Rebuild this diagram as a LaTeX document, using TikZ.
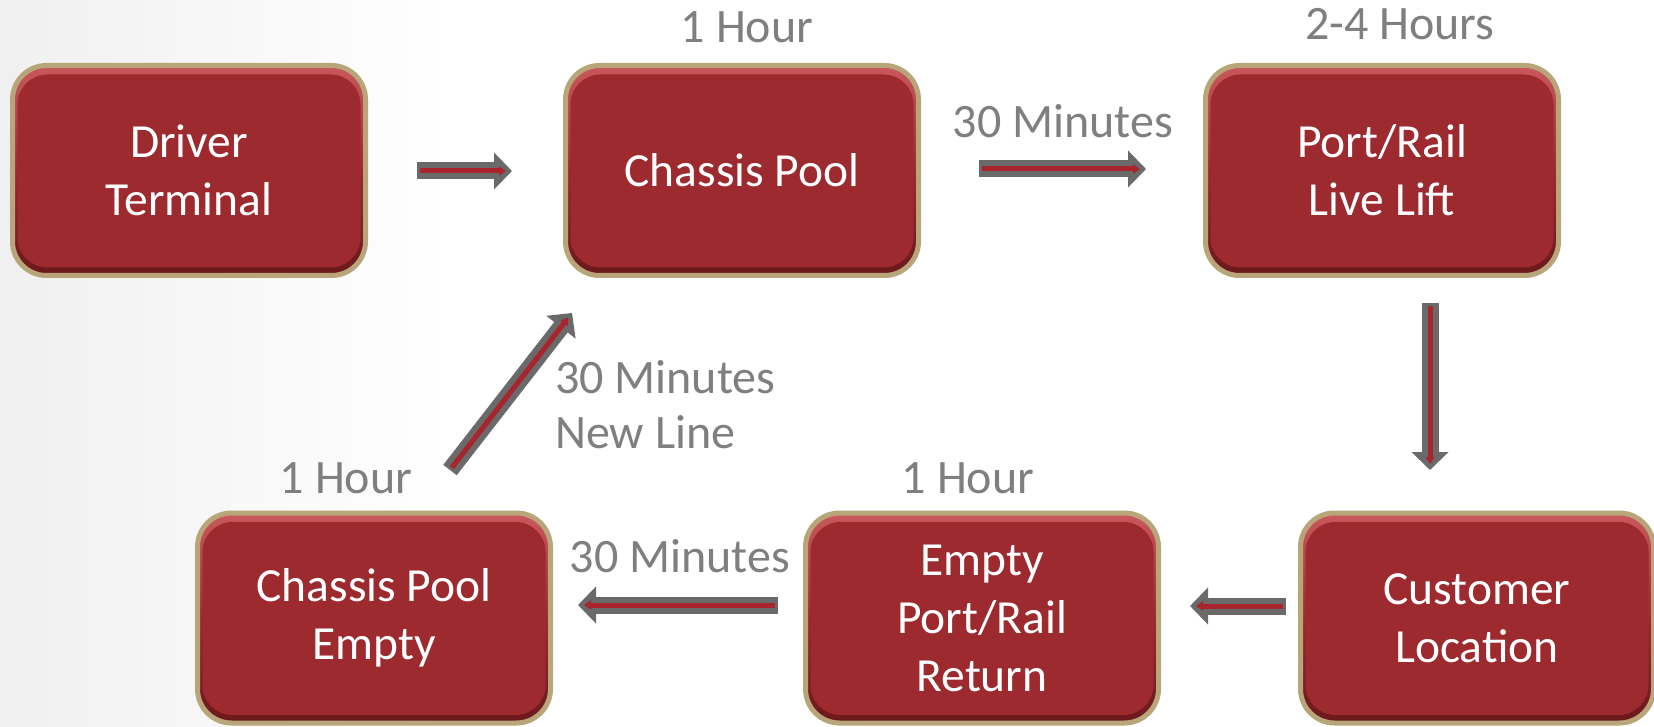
\documentclass[tikz,border=0pt]{standalone}
\usepackage{fontspec}
\setmainfont{Carlito}
\usetikzlibrary{arrows.meta,calc}
\definecolor{boxred}{HTML}{9C2A2F}
\definecolor{boxlight}{HTML}{C9585B}
\definecolor{boxdark}{HTML}{6A181C}
\definecolor{boxrim}{HTML}{B8A57A}
\definecolor{lblgray}{HTML}{7F7F7F}
\definecolor{arrgray}{HTML}{6A6A6A}
\definecolor{arrred}{HTML}{A8252D}
\newcommand\fancyarrow[2]{\draw[greyarr] (#1) -- (#2); \draw[redarr] (#1) -- (#2);}
\begin{document}
\begin{tikzpicture}[x=1pt,y=-1pt,
  stepbox/.style={draw=boxrim, line width=5pt, rounded corners=34pt,
    minimum width=353pt, minimum height=210pt, inner sep=0pt, outer sep=0pt,
    text=white, align=center, font=\fontsize{47.5}{58}\selectfont, fill=boxred,
    path picture={
      \fill[top color=boxlight, bottom color=boxdark, middle color=boxred]
        (path picture bounding box.north west) rectangle (path picture bounding box.south east);
      \fill[boxred, rounded corners=30pt]
        ([shift={(5,9)}]path picture bounding box.north west) rectangle
        ([shift={(-5,-8)}]path picture bounding box.south east);
    }},
  lbl/.style={text=lblgray, font=\fontsize{48}{55}\selectfont, inner sep=0pt},
  greyarr/.style={draw=arrgray, line width=17pt, -{Triangle[length=18pt,width=36pt]}},
  redarr/.style={draw=arrred, line width=5pt, shorten <=3pt, shorten >=6pt,
    -{Triangle[length=7pt,width=9pt]}}]
\useasboundingbox (0,0) rectangle (1654,727);
\fill[white] (0,0) rectangle (1654,727);
\fill[left color=black!6, right color=white] (0,0) rectangle (450,727);

\node[stepbox] (driver)  at (189,170.5) {Driver\\Terminal};
\node[stepbox] (chassis) at (742,170.5) {Chassis Pool};
\node[stepbox] (port)    at (1382,170.5) {Port/Rail\\Live Lift};
\node[stepbox] (cust)    at (1477,618) {Customer\\Location};
\node[stepbox] (epr)     at (982,618) {Empty\\Port/Rail\\Return};
\node[stepbox] (cpe)     at (374,618) {Chassis Pool\\Empty};

\coordinate (a1s) at ($(driver.east)+(51.5,0.5)$);
\coordinate (a1e) at ($(chassis.west)+(-53.5,0.5)$);
\coordinate (a2s) at ($(chassis.east)+(60.5,-1.5)$);
\coordinate (a2e) at ($(port.west)+(-59.5,-1.5)$);
\coordinate (a3s) at ($(port.south)+(48,27.5)$);
\coordinate (a3e) at ($(cust.north)+(-47,-43)$);
\coordinate (a4s) at ($(cust.west)+(-14.5,-12)$);
\coordinate (a4e) at ($(epr.east)+(31.5,-12)$);
\coordinate (a5s) at ($(epr.west)+(-27.5,-13)$);
\coordinate (a5e) at ($(cpe.east)+(27.5,-13)$);
\coordinate (a6s) at ($(cpe.north)+(76,-43)$);
\coordinate (a6e) at ($(chassis.south west)+(6.5,37.5)$);

\fancyarrow{a1s}{a1e}
\fancyarrow{a2s}{a2e}
\fancyarrow{a3s}{a3e}
\fancyarrow{a4s}{a4e}
\fancyarrow{a5s}{a5e}
\fancyarrow{a6s}{a6e}

\node[lbl, anchor=base] (l1) at (747,43) {1 Hour};
\node[lbl, anchor=base] (l2) at (1400,40) {2-4 Hours};
\node[lbl, anchor=base] (l3) at (1063,138) {30 Minutes};
\node[lbl, anchor=base west] (l4) at (555,393) {30 Minutes};
\node[lbl, anchor=base west] (l5) at (555,448) {New Line};
\node[lbl, anchor=base] (l6) at (346,493) {1 Hour};
\node[lbl, anchor=base] (l7) at (968,493) {1 Hour};
\node[lbl, anchor=base] (l8) at (680,572) {30 Minutes};
\end{tikzpicture}
\end{document}
